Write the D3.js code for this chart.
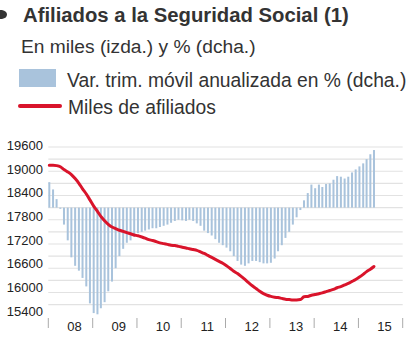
<!DOCTYPE html>
<html>
<head>
<meta charset="utf-8">
<script src="https://cdn.jsdelivr.net/npm/d3@7"></script>
<style>
  body { margin: 0; background: #fff; }
  svg { display: block; font-family: "Liberation Sans", Arial, sans-serif; }
</style>
</head>
<body>
<div id="chart"></div>
<script>
// --- Datos: afiliados (miles) y variación trimestral anualizada (%) ---
const firstMonth = new Date(2008, 0, 1);
const lastMonth = new Date(2015, 4, 1);

const afiliados = [
  19100, 19100, 19090, 19060, 18990, 18930, 18860, 18760, 18640, 18500, 18370, 18220,
  18060, 17930, 17800, 17690, 17600, 17530, 17490, 17450, 17420, 17390, 17360, 17330,
  17310, 17280, 17250, 17210, 17190, 17160, 17130, 17110, 17090, 17070, 17060, 17040,
  17020, 17000, 16980, 16960, 16940, 16900, 16860, 16810, 16760, 16710, 16660, 16610,
  16550, 16480, 16410, 16350, 16280, 16200, 16120, 16040, 15970, 15900, 15840, 15800,
  15770, 15750, 15740, 15720, 15700, 15690, 15680, 15680, 15690, 15760, 15770, 15800,
  15820, 15840, 15860, 15890, 15920, 15950, 15990, 16020, 16060, 16100, 16150, 16200,
  16260, 16330, 16400, 16460, 16530
];

const variacion = [
  2.1, 1.5, 0.7, -0.1, -1.4, -2.7, -4.1, -4.8, -5.2, -5.8, -6.5, -7.9,
  -8.7, -8.8, -8.3, -7.8, -6.9, -6.1, -5.0, -4.0, -3.4, -2.9, -2.7, -2.4,
  -2.1, -2.0, -1.9, -1.8, -1.7, -1.7, -1.6, -1.5, -1.4, -1.25, -1.1, -1.0,
  -1.05, -1.1, -1.0, -1.1, -1.3, -1.5, -1.9, -2.1, -2.3, -2.6, -2.9, -3.1,
  -3.3, -3.6, -4.0, -4.4, -4.7, -4.8, -4.6, -4.4, -4.4, -4.5, -4.6, -4.6,
  -4.55, -4.2, -3.6, -3.1, -2.5, -2.0, -1.4, -0.8, -0.2, 0.6, 1.2, 1.9,
  1.6, 1.9, 1.7, 1.95, 2.0, 2.3, 2.6, 2.55, 2.4, 2.55, 2.9, 3.15,
  3.4, 3.65, 4.0, 4.4, 4.75
];

const yearLabels = ['08', '09', '10', '11', '12', '13', '14', '15'];
const leftTicks = [15400, 16000, 16600, 17200, 17800, 18400, 19000, 19600];
const pctTicks = [-8, -7, -6, -5, -4, -3, -2, -1, 0, 1, 2, 3, 4, 5];

const months = d3.timeMonth.range(firstMonth, d3.timeMonth.offset(lastMonth, 1));
const data = months.map((m, i) => ({ date: m, miles: afiliados[i], pct: variacion[i] }));

const W = 414, H = 345;
const svg = d3.select('#chart').append('svg')
  .attr('width', W)
  .attr('height', H);

// --- Cabecera y leyenda ---
svg.append('path')
  .attr('d', 'M0,10 L2,10 Q7,11 7,14.5 Q7,18 2,19 L0,19 Z')
  .attr('fill', '#333');

svg.append('text')
  .attr('x', 23).attr('y', 22)
  .attr('font-size', 20.3).attr('font-weight', 'bold')
  .attr('fill', '#333')
  .text('Afiliados a la Seguridad Social (1)');

svg.append('text')
  .attr('x', 21).attr('y', 53)
  .attr('font-size', 19.2)
  .attr('fill', '#333')
  .text('En miles (izda.) y % (dcha.)');

svg.append('rect')
  .attr('x', 19).attr('y', 69)
  .attr('width', 37).attr('height', 18)
  .attr('fill', '#a9c3dc');

svg.append('text')
  .attr('x', 67).attr('y', 87)
  .attr('font-size', 19.3)
  .attr('fill', '#333')
  .text('Var. trim. móvil anualizada en % (dcha.)');

svg.append('line')
  .attr('x1', 20).attr('x2', 60)
  .attr('y1', 106).attr('y2', 106)
  .attr('stroke', '#d9142b').attr('stroke-width', 4)
  .attr('stroke-linecap', 'round');

svg.append('text')
  .attr('x', 68).attr('y', 114)
  .attr('font-size', 19.3)
  .attr('fill', '#333')
  .text('Miles de afiliados');

// --- Escalas ---
const x = d3.scaleTime()
  .domain([new Date(2008, 0, 1), new Date(2016, 0, 1)])
  .range([48.3, 402.7]);

const yLeft = d3.scaleLinear()
  .domain([15400, 19600])
  .range([311, 145.5]);

const yPct = d3.scaleLinear()
  .domain([-8, 5])
  .range([304.6, 147]);

// --- Rejilla horizontal ---
svg.append('g')
  .selectAll('line')
  .data(pctTicks)
  .join('line')
    .attr('x1', x.range()[0])
    .attr('x2', x.range()[1])
    .attr('y1', d => yPct(d))
    .attr('y2', d => yPct(d))
    .attr('stroke', '#e2e2e2')
    .attr('stroke-width', 1.2);

// --- Eje izquierdo (miles) ---
svg.append('g')
  .selectAll('text')
  .data(leftTicks)
  .join('text')
    .attr('x', 43)
    .attr('y', d => yLeft(d))
    .attr('dy', '0.35em')
    .attr('text-anchor', 'end')
    .attr('font-size', 13)
    .attr('fill', '#222')
    .text(d => d);

// --- Eje de años ---
const years = d3.timeYear.range(new Date(2008, 0, 1), new Date(2017, 0, 1));
svg.append('g')
  .selectAll('line')
  .data(years)
  .join('line')
    .attr('x1', d => x(d)).attr('x2', d => x(d))
    .attr('y1', 318).attr('y2', 328)
    .attr('stroke', '#aaa')
    .attr('stroke-width', 1);

svg.append('g')
  .selectAll('text')
  .data(yearLabels)
  .join('text')
    .attr('x', (d, i) => (x(years[i]) + x(years[i + 1])) / 2 + 4)
    .attr('y', 331)
    .attr('text-anchor', 'middle')
    .attr('font-size', 13)
    .attr('fill', '#222')
    .text(d => d);

// --- Barras de variación (eje dcha.) ---
svg.append('g')
  .selectAll('rect')
  .data(data)
  .join('rect')
    .attr('x', d => x(d.date))
    .attr('width', 2)
    .attr('y', d => yPct(Math.max(0, d.pct)))
    .attr('height', d => Math.abs(yPct(d.pct) - yPct(0)))
    .attr('fill', '#a9c3dc');

// --- Línea de afiliados (eje izda.) ---
const line = d3.line()
  .x(d => x(d.date) + 1)
  .y(d => yLeft(d.miles))
  .curve(d3.curveMonotoneX);

svg.append('path')
  .datum(data)
  .attr('fill', 'none')
  .attr('stroke', '#d9142b')
  .attr('stroke-width', 3)
  .attr('stroke-linejoin', 'round')
  .attr('stroke-linecap', 'round')
  .attr('d', line);
</script>
</body>
</html>
